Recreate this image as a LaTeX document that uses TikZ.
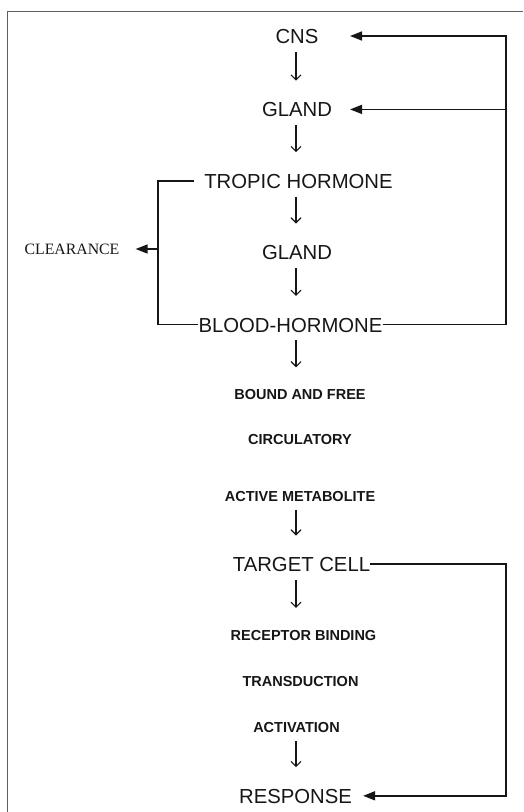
\documentclass[tikz,border=0pt]{standalone}
\usepackage{fontspec}
\usepackage{tikz}
\usetikzlibrary{arrows.meta,positioning,calc}
\setmainfont{Liberation Sans}
\newfontfamily\clearfont{Liberation Serif}
\definecolor{ink}{HTML}{161616}
\definecolor{framegray}{HTML}{5E5E5E}

\begin{document}
\begin{tikzpicture}[
    x=1pt, y=-1pt,
    node distance=56pt,
    big/.style={font=\fontsize{20.3}{22}\selectfont, text=ink, inner sep=0pt, text height=15pt, text depth=0pt},
    small/.style={font=\bfseries\fontsize{14.5}{17}\selectfont, text=ink, inner sep=0pt, text height=11pt, text depth=0pt},
    side/.style={font=\clearfont\fontsize{15.8}{17}\selectfont, text=ink, inner sep=0pt, text height=11pt, text depth=0pt},
    down/.style={-{Straight Barb[length=5pt,width=10pt]}, line width=1.1pt, draw=ink, shorten <=8pt, shorten >=21pt},
    fb/.style={line width=1.6pt, draw=ink},
    tip/.style={fb, -{Triangle[length=12pt,width=9pt]}},
    frame/.style={line width=1pt, draw=framegray}
]
\useasboundingbox (0,0) rectangle (523,812);
\draw[frame] (7,812) -- (7,11) -- (523,11);

% main column
\node[big] (cns) at (297,36) {CNS};
\node[big, below=58pt of cns] (gland1) {GLAND};
\node[big, below=of gland1, xshift=1.5pt] (tropic) {TROPIC HORMONE};
\node[big, below=of tropic, xshift=-1.5pt] (gland2) {GLAND};
\node[big, below=57pt of gland2, xshift=-6.5pt] (blood) {BLOOD-HORMONE};
\node[small, below=of blood, xshift=9.5pt] (bound) {BOUND AND FREE};
\node[small, below=34pt of bound] (circ) {CIRCULATORY};
\node[small, below=45pt of circ] (active) {ACTIVE METABOLITE};
\node[big, below=55pt of active, xshift=1.5pt] (target) {TARGET CELL};
\node[small, below=57pt of target, xshift=2pt] (receptor) {RECEPTOR BINDING};
\node[small, below=35pt of receptor, xshift=-3pt] (transd) {TRANSDUCTION};
\node[small, below=35pt of transd, xshift=-4pt] (activ) {ACTIVATION};
\node[big, below=55pt of activ, xshift=-1pt] (response) {RESPONSE};
\node[side] (clearance) at (72,249) {CLEARANCE};

% helper columns
\coordinate (axis) at (296,0);
\coordinate (rt) at (506,0);
\coordinate (tx) at (350,0);
\coordinate (lx) at (158,0);

% down arrows
\draw[down] (axis |- cns.south) -- (axis |- gland1.north);
\draw[down] (axis |- gland1.south) -- (axis |- tropic.north);
\draw[down] (axis |- tropic.south) -- (axis |- gland2.north);
\draw[down] (axis |- gland2.south) -- (axis |- blood.north);
\draw[down] (axis |- blood.south) -- (axis |- bound.north);
\draw[down] (axis |- active.south) -- (axis |- target.north);
\draw[down] (axis |- target.south) -- (axis |- receptor.north);
\draw[down] (axis |- activ.south) -- (axis |- response.north);

% feedback loops
\draw[tip] (blood.east) -| (rt |- cns) -- (tx |- cns);
\draw[tip] (rt |- gland1) -- (tx |- gland1);
\draw[fb] ([xshift=-10pt]tropic.west) -| (lx |- blood) -- (blood.west);
\draw[tip, shorten >=16pt] (lx |- clearance) -- (clearance.east);
\draw[tip, shorten >=11pt] (target.east) -| (rt |- response) -- (response.east);
\end{tikzpicture}
\end{document}
